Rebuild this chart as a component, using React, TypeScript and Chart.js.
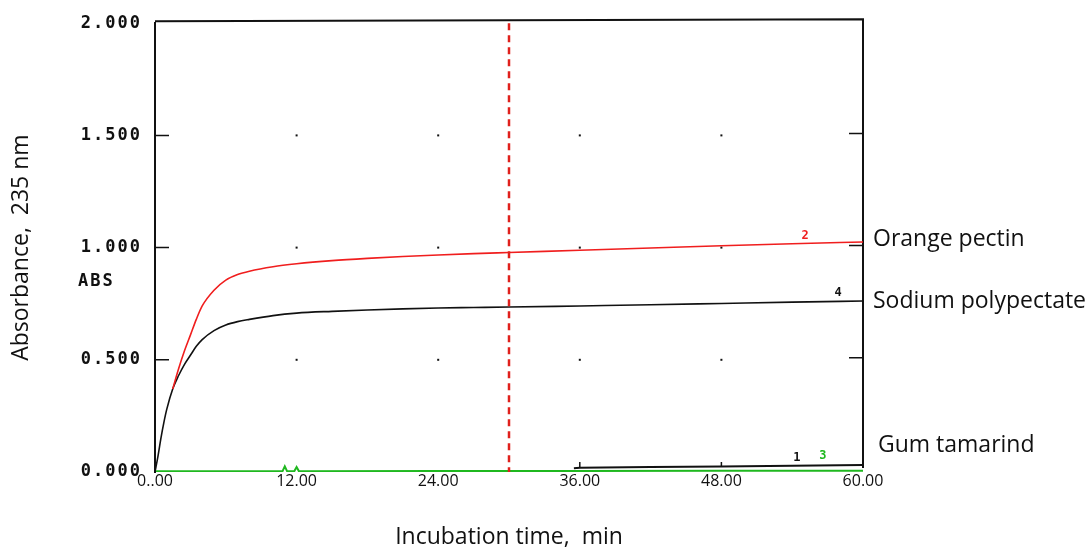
import React, { useEffect, useRef } from "react";
import { Chart, registerables } from "chart.js";

Chart.register(...registerables);

// ---- data ----
const timeMin = [0, 0.25, 0.5, 0.75, 1, 1.5, 2, 2.5, 3, 3.5, 4, 5, 6, 7, 8, 10, 12, 15, 18, 21, 24, 27, 30, 36, 42, 48, 54, 60];
const sodiumPolypectate = [0, 0.07, 0.15, 0.22, 0.28, 0.37, 0.43, 0.48, 0.52, 0.56, 0.59, 0.63, 0.655, 0.67, 0.68, 0.697, 0.708, 0.716, 0.722, 0.727, 0.731, 0.733, 0.735, 0.74, 0.745, 0.751, 0.757, 0.762];
const orangePectin = [null, null, null, null, null, 0.37, 0.46, 0.54, 0.61, 0.68, 0.74, 0.81, 0.855, 0.88, 0.895, 0.915, 0.928, 0.942, 0.952, 0.96, 0.967, 0.973, 0.978, 0.988, 0.998, 1.008, 1.017, 1.025];
const gumTime = [0, 10.8, 11, 11.2, 11.8, 12, 12.2, 24, 30, 36, 48, 60];
const gumTamarind = [0.003, 0.003, 0.025, 0.003, 0.003, 0.022, 0.003, 0.004, 0.004, 0.005, 0.006, 0.006];
const blankTime = [35.5, 36, 42, 48, 54, 60];
const blankValues = [0.017, 0.019, 0.022, 0.025, 0.028, 0.031];

const seriesNames = ["Orange pectin", "Sodium polypectate", "Gum tamarind"];
const seriesTags = ["2", "4", "3", "1"];
const tagTimes = [55.1, 57.9, 56.6, 54.4];
const xTickLabels = ["0..00", "12.00", "24.00", "36.00", "48.00", "60.00"];
const yTickLabels = ["0.000", "0.500", "1.000", "1.500", "2.000"];
const markerTime = 30;
const absUnitValue = 0.85;

const RED = "#f01e1e";
const BLACK = "#111111";
const GREEN = "#1fb81f";

function valueAt(times: number[], vals: (number | null)[], t: number): number {
  for (let i = 1; i < times.length; i++) {
    if (t <= times[i]) {
      const a = vals[i - 1] ?? vals[i]!;
      const b = vals[i]!;
      const f = (t - times[i - 1]) / (times[i] - times[i - 1]);
      return a + (b - a) * f;
    }
  }
  return vals[vals.length - 1]!;
}

const decorPlugin = {
  id: "decor",
  beforeDraw(chart: any) {
    const ctx = chart.ctx;
    ctx.save();
    ctx.fillStyle = "#ffffff";
    ctx.fillRect(0, 0, chart.width, chart.height);
    ctx.restore();
    (ctx as any).letterSpacing = "2px";
  },
  beforeDatasetsDraw(chart: any) {
    const ctx = chart.ctx;
    (ctx as any).letterSpacing = "0px";
    const { left, right, top, bottom } = chart.chartArea;
    const xs = chart.scales.x;
    const ys = chart.scales.y;
    ctx.save();
    ctx.strokeStyle = BLACK;
    ctx.lineWidth = 2;
    ctx.beginPath();
    ctx.moveTo(left, top - 2);
    ctx.lineTo(right, top - 4);
    ctx.lineTo(right, bottom - 4);
    ctx.stroke();
    // inward ticks
    ctx.lineWidth = 1.5;
    [0.5, 1.0, 1.5].forEach((v) => {
      const y = ys.getPixelForValue(v);
      ctx.beginPath();
      ctx.moveTo(left, y);
      ctx.lineTo(left + 14, y);
      ctx.moveTo(right, y - 2);
      ctx.lineTo(right - 14, y - 2);
      ctx.stroke();
    });
    [36, 48].forEach((t) => {
      const x = xs.getPixelForValue(t);
      ctx.beginPath();
      ctx.moveTo(x, bottom - 5);
      ctx.lineTo(x, bottom - 10);
      ctx.stroke();
    });
    // grid dots
    ctx.fillStyle = BLACK;
    [0.5, 1.0, 1.5].forEach((v) => {
      [12, 24, 36, 48].forEach((t) => {
        ctx.fillRect(xs.getPixelForValue(t) - 1, ys.getPixelForValue(v) - 1, 2, 2);
      });
    });
    ctx.restore();
  },
  afterDatasetsDraw(chart: any) {
    const ctx = chart.ctx;
    const { right, top, bottom } = chart.chartArea;
    const xs = chart.scales.x;
    const ys = chart.scales.y;
    ctx.save();
    (ctx as any).letterSpacing = "0px";
    // dashed marker
    const mx = xs.getPixelForValue(markerTime);
    ctx.strokeStyle = "#e0201c";
    ctx.lineWidth = 2.5;
    ctx.setLineDash([7, 5]);
    ctx.beginPath();
    ctx.moveTo(mx, top);
    ctx.lineTo(mx, bottom);
    ctx.stroke();
    ctx.setLineDash([]);

    // series tags
    const tagColors = [RED, BLACK, GREEN, BLACK];
    const tagVals = [
      valueAt(timeMin, orangePectin, tagTimes[0]),
      valueAt(timeMin, sodiumPolypectate, tagTimes[1]),
      valueAt(gumTime, gumTamarind, tagTimes[2]),
      valueAt(blankTime, blankValues, tagTimes[3]),
    ];
    const tagOffsets = [-8, -9, -15, -8];
    ctx.font = 'bold 12px "DejaVu Sans Mono"';
    ctx.textAlign = "center";
    ctx.textBaseline = "middle";
    seriesTags.forEach((tag, i) => {
      ctx.fillStyle = tagColors[i];
      ctx.fillText(tag, xs.getPixelForValue(tagTimes[i]), ys.getPixelForValue(tagVals[i]) + tagOffsets[i]);
    });

    // right-side series names
    const lastVals = [
      orangePectin[orangePectin.length - 1]!,
      sodiumPolypectate[sodiumPolypectate.length - 1],
      gumTamarind[gumTamarind.length - 1],
    ];
    const nameOffsets = [-3, 0, -25];
    const nameDx = [10, 10, 15];
    ctx.font = '23px "Open Sans"';
    ctx.fillStyle = BLACK;
    ctx.textAlign = "left";
    seriesNames.forEach((name, i) => {
      ctx.fillText(name, right + nameDx[i], ys.getPixelForValue(lastVals[i]) + nameOffsets[i]);
    });

    // ABS unit label
    (ctx as any).letterSpacing = "2px";
    ctx.font = 'bold 17px "DejaVu Sans Mono"';
    ctx.fillText("ABS", 78, ys.getPixelForValue(absUnitValue));
    (ctx as any).letterSpacing = "0px";
    ctx.restore();
  },
};

export default function App() {
  const ref = useRef<HTMLCanvasElement | null>(null);
  useEffect(() => {
    if (!ref.current) return;
    const chart = new Chart(ref.current, {
      type: "line",
      data: {
        datasets: [
          {
            label: seriesNames[2],
            data: gumTime.map((t, i) => ({ x: t, y: gumTamarind[i] })),
            borderColor: GREEN,
            borderWidth: 2,
            pointRadius: 0,
            tension: 0,
          },
          {
            label: "blank",
            data: blankTime.map((t, i) => ({ x: t, y: blankValues[i] })),
            borderColor: BLACK,
            borderWidth: 2,
            pointRadius: 0,
            tension: 0,
          },
          {
            label: seriesNames[0],
            data: timeMin
              .map((t, i) => ({ x: t, y: orangePectin[i] }))
              .filter((p) => p.y !== null),
            borderColor: RED,
            borderWidth: 1.6,
            pointRadius: 0,
            cubicInterpolationMode: "monotone",
          },
          {
            label: seriesNames[1],
            data: timeMin.map((t, i) => ({ x: t, y: sodiumPolypectate[i] })),
            borderColor: BLACK,
            borderWidth: 1.6,
            pointRadius: 0,
            cubicInterpolationMode: "monotone",
          },
        ],
      },
      options: {
        animation: false,
        responsive: false,
        devicePixelRatio: 1,
        layout: { padding: { top: 20, right: 225, left: 0, bottom: 0 } },
        plugins: { legend: { display: false }, tooltip: { enabled: false }, title: { display: false } },
        scales: {
          x: {
            type: "linear",
            min: 0,
            max: 60,
            afterFit: (s: any) => {
              s.height = 79;
            },
            ticks: {
              stepSize: 12,
              autoSkip: false,
              maxRotation: 0,
              callback: (_v: any, i: number) => xTickLabels[i],
              font: { family: '"Open Sans"', size: 16 },
              color: "#111",
              padding: 0,
              z: 1,
            },
            grid: { display: false, drawTicks: false, z: 1 },
            border: { display: false },
            title: {
              display: true,
              text: "Incubation time,  min",
              font: { family: '"Open Sans"', size: 23 },
              color: "#111",
              padding: { top: 0, bottom: 0 },
            },
          },
          y: {
            type: "linear",
            min: 0,
            max: 2,
            afterFit: (s: any) => {
              s.width = 155;
            },
            ticks: {
              stepSize: 0.5,
              callback: (_v: any, i: number) => yTickLabels[i],
              font: { family: '"DejaVu Sans Mono"', size: 17, weight: "bold" },
              color: "#111",
              padding: 13,
              z: 0,
            },
            grid: { display: false, drawTicks: false, z: 1 },
            border: { display: true, color: BLACK, width: 2, z: 1 },
            title: {
              display: true,
              text: "Absorbance,  235 nm",
              font: { family: '"Open Sans"', size: 23 },
              color: "#111",
              padding: { top: 8, bottom: 0 },
            },
          },
        },
      },
      plugins: [decorPlugin],
    } as any);
    return () => chart.destroy();
  }, []);
  return (
    <div style={{ position: "absolute", left: 0, top: 0, width: 1088, height: 551, background: "#fff" }}>
      <canvas ref={ref} width={1088} height={551} style={{ display: "block" }} />
    </div>
  );
}
